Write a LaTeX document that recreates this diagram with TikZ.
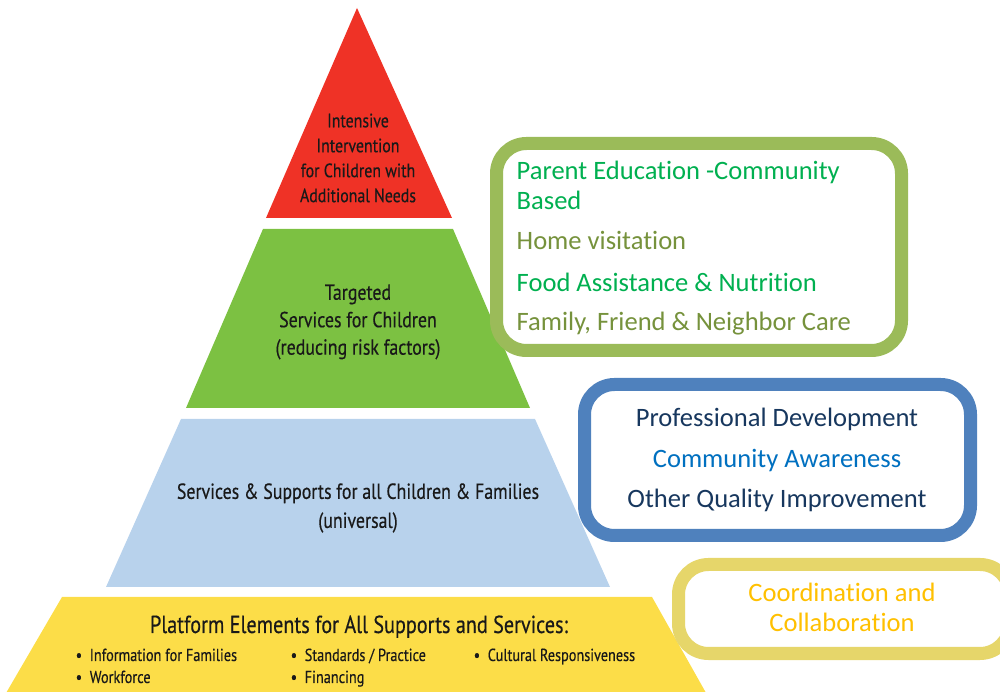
\documentclass[tikz,border=0pt]{standalone}
\usepackage{fontspec}
\setmainfont{Carlito}[Ligatures=NoCommon]
\newfontfamily\pyrfont[FakeStretch=0.82, FakeBold=0.35]{PT Sans}
\usetikzlibrary{positioning}
\definecolor{tierred}{HTML}{EF3226}
\definecolor{tiergreen}{HTML}{7CC142}
\definecolor{tierblue}{HTML}{B8D2EC}
\definecolor{tieryellow}{HTML}{FCDD48}
\definecolor{boxgreen}{HTML}{9BBB59}
\definecolor{boxblue}{HTML}{4F81BD}
\definecolor{boxyellow}{HTML}{E6D66A}
\definecolor{txtgreen}{HTML}{00B050}
\definecolor{txtolive}{HTML}{76923C}
\definecolor{txtnavy}{HTML}{17375E}
\definecolor{txtblue}{HTML}{0070C0}
\definecolor{txtgold}{HTML}{FFC000}
\tikzset{
  tierlabel/.style={align=center, text=black!90, font=\pyrfont\fontsize{6.2}{7.8}\selectfont},
  sidebox/.style={line width=3.7pt, rounded corners=0.3cm, fill=white},
  boxtext/.style={font=\fontsize{7.55}{8.5}\selectfont},
  bullet/.style={anchor=base west, text=black!90, font=\pyrfont\fontsize{4.95}{5.5}\selectfont}
}

\begin{document}
\begin{tikzpicture}[x=0.01cm, y=-0.01cm, every node/.style={inner sep=0pt}]
  \useasboundingbox (0,0) rectangle (1000,692);
  % pyramid tiers
  \fill[tierred] (357,8) -- (452,218) -- (266,218) -- cycle;
  \fill[tiergreen] (263,229) -- (453,229) -- (530,408) -- (186,408) -- cycle;
  \fill[tierblue] (181,419) -- (535,419) -- (610,587) -- (106,587) -- cycle;
  \fill[tieryellow] (62,597) -- (652,597) -- (710,700) -- (2,700) -- cycle;

  \node[tierlabel, font=\pyrfont\fontsize{5.5}{7.1}\selectfont] (intensive) at (358,158)
    {Intensive\\Intervention\\for Children with\\Additional Needs};
  \node[tierlabel] (targeted) at (358,322)
    {Targeted\\Services for Children\\(reducing risk factors)};
  \node[tierlabel, font=\pyrfont\fontsize{6.2}{8.25}\selectfont] (universal) at (358,508)
    {Services \& Supports for all Children \& Families\\(universal)};
  \node[anchor=base, text=black!90, font=\pyrfont\fontsize{7}{8}\selectfont] (platform) at (359,633)
    {Platform Elements for All Supports and Services:};
  \node[bullet] (info) at (75,661) {\textbullet\ \ Information for Families};
  \node[bullet] (workforce) at (75,683) {\textbullet\ \ Workforce};
  \node[bullet] (standards) at (290,661) {\textbullet\ \ Standards / Practice};
  \node[bullet] (financing) at (290,683) {\textbullet\ \ Financing};
  \node[bullet] (cultural) at (473,661) {\textbullet\ \ Cultural Responsiveness};

  % side boxes
  \draw[sidebox, draw=boxgreen] (496.5,143.5) rectangle (901.5,350.5);
  \node[boxtext, anchor=base west, txtgreen] (parented) at (516,180) {Parent Education -Community};
  \node[boxtext, anchor=base west, txtgreen] (based) at (516,210) {Based};
  \node[boxtext, anchor=base west, txtolive] (home) at (516,250) {Home visitation};
  \node[boxtext, anchor=base west, txtgreen] (food) at (516,292) {Food Assistance \& Nutrition};
  \node[boxtext, anchor=base west, txtolive] (family) at (516,331) {Family, Friend \& Neighbor Care};

  \draw[sidebox, draw=boxblue] (584.5,384.5) rectangle (970.5,535.5);
  \node[boxtext, anchor=base, txtnavy] (profdev) at (777,427) {Professional Development};
  \node[boxtext, anchor=base, txtblue] (awareness) at (777,468) {Community Awareness};
  \node[boxtext, anchor=base, txtnavy] (quality) at (777,508) {Other Quality Improvement};

  \draw[sidebox, draw=boxyellow] (678.5,564.5) rectangle (1010,653.5);
  \node[boxtext, anchor=base, txtgold] (coord) at (842,602) {Coordination and};
  \node[boxtext, anchor=base, txtgold] (collab) at (842,632) {Collaboration};
\end{tikzpicture}
\end{document}
